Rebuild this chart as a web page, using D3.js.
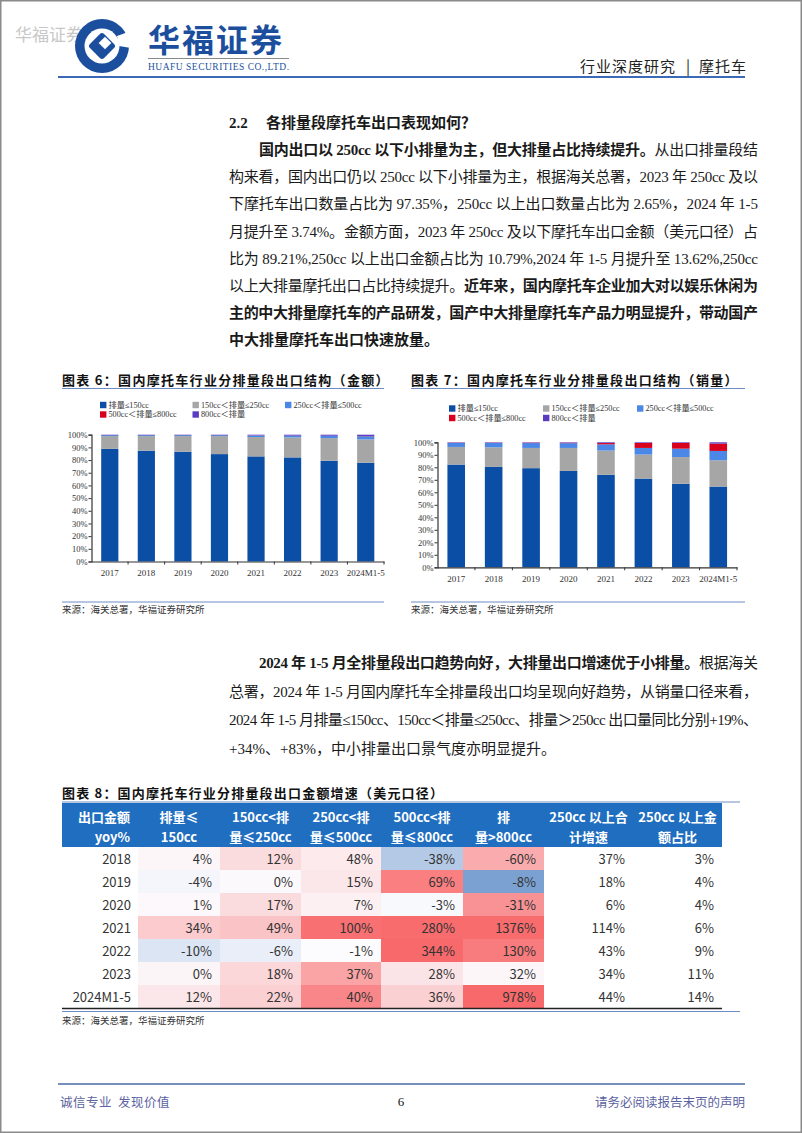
<!DOCTYPE html>
<html><head><meta charset="utf-8">
<script src="https://cdn.jsdelivr.net/npm/d3@7"></script>
<style>html,body{margin:0;padding:0;background:#fff}svg{display:block}</style>
</head><body>
<svg id="page" width="802" height="1133"></svg>
<script>
// ---------------- DATA ----------------
const years = ["2017","2018","2019","2020","2021","2022","2023","2024M1-5"];
const seriesNames = ["排量≤150cc","150cc＜排量≤250cc","250cc＜排量≤500cc","500cc＜排量≤800cc","800cc＜排量"];
// Chart 6 (金额) shares, %
const amtLe150   = [88.8, 87.4, 86.6, 84.7, 82.9, 82.1, 79.5, 77.9];
const amt150_250 = [10.1, 11.5, 12.3, 14.2, 15.3, 15.8, 17.8, 18.4];
const amt250_500 = [0.8, 0.8, 0.8, 0.8, 1.2, 1.3, 1.8, 2.5];
const amt500_800 = [0.1, 0.1, 0.1, 0.1, 0.1, 0.1, 0.1, 0.2];
const amtGt800   = [0.2, 0.2, 0.2, 0.2, 0.5, 0.7, 0.8, 1.0];
// Chart 7 (销量) shares, %
const volLe150   = [82.2, 80.3, 79.3, 77.1, 74.0, 71.0, 66.8, 64.6];
const vol150_250 = [14.1, 15.7, 16.2, 18.4, 19.4, 19.2, 21.4, 21.0];
const vol250_500 = [3.2, 3.5, 3.9, 3.8, 5.0, 5.3, 6.7, 7.5];
const vol500_800 = [0.2, 0.2, 0.3, 0.3, 1.0, 4.0, 4.6, 5.9];
const volGt800   = [0.3, 0.3, 0.3, 0.4, 0.6, 0.5, 0.5, 1.0];
const yTicks = [0,10,20,30,40,50,60,70,80,90,100];

// Table 8
const tableYears = ["2018","2019","2020","2021","2022","2023","2024M1-5"];
const tableHeaders = [["出口金额","yoy%"],["排量≤","150cc"],["150cc<排","量≤250cc"],["250cc<排","量≤500cc"],["500cc<排","量≤800cc"],["排","量>800cc"],["250cc 以上合","计增速"],["250cc 以上金","额占比"]];
const yoyLe150   = [4, -4, 1, 34, -10, 0, 12];
const yoy150_250 = [12, 0, 17, 49, -6, 18, 22];
const yoy250_500 = [48, 15, 7, 100, -1, 37, 40];
const yoy500_800 = [-38, 69, -3, 280, 344, 28, 36];
const yoyGt800   = [-60, -8, -31, 1376, 130, 32, 978];
const yoyGt250   = [37, 18, 6, 114, 43, 34, 44];
const shareGt250 = [3, 4, 4, 6, 9, 11, 14];
// heat level of each coloured cell (-1 blue … 0 white … 1 red)
const heatLe150   = [0.04, -0.05, 0.03, 0.33, -0.2, 0.05, 0.15];
const heat150_250 = [0.22, 0.02, 0.22, 0.38, -0.12, 0.25, 0.3];
const heat250_500 = [0.12, 0.15, 0.08, 0.95, 0.01, 0.6, 0.8];
const heat500_800 = [-0.45, 0.85, -0.03, 0.98, 1.0, 0.16, 0.3];
const heatGt800   = [0.55, -0.8, 0.72, 0.98, 0.88, 0.04, 1.0];

// ---------------- DRAW ----------------
const svg = d3.select("#page");
const SERIF = "'Liberation Serif','Noto Sans CJK SC',serif";
const SANS = "'Noto Sans CJK SC','Noto Sans',sans-serif";
function T(x, y, s, o = {}) {
  const t = svg.append("text").attr("x", x).attr("y", y).text(s)
    .attr("font-family", o.ff || SERIF).attr("font-size", o.fs || 15)
    .attr("fill", o.fill || "#1a1a1a").attr("dominant-baseline", "central");
  if (o.fw) t.attr("font-weight", o.fw);
  if (o.anchor) t.attr("text-anchor", o.anchor);
  if (o.ls != null) t.attr("letter-spacing", o.ls);
  if (o.tl) t.attr("textLength", o.tl).attr("lengthAdjust", "spacing");
  return t;
}
function L(x1, y1, x2, y2, c, w) {
  svg.append("line").attr("x1", x1).attr("y1", y1).attr("x2", x2).attr("y2", y2)
    .attr("stroke", c).attr("stroke-width", w);
}

// page frame
svg.append("rect").attr("x", 0.75).attr("y", 0.75).attr("width", 800.5).attr("height", 1131.5)
  .attr("fill", "none").attr("stroke", "#8a8a8a").attr("stroke-width", 1.5);

// ---- header ----
T(15, 33, "华福证券", {ff: SANS, fs: 17, fill: "#c8c8c8"});
const logo = svg.append("g").attr("transform", "translate(102,46)");
logo.append("circle").attr("r", 27).attr("fill", "#1b4f9e");
logo.append("circle").attr("r", 17.5).attr("fill", "#fff");
logo.append("path").attr("d", "M15,-10 L29,-15 L29,2 L17,0 Z").attr("fill", "#fff");
logo.append("rect").attr("x", -10).attr("y", -10).attr("width", 20).attr("height", 20).attr("rx", 3)
  .attr("transform", "rotate(45)").attr("fill", "#1b4f9e");
logo.append("rect").attr("x", -4.5).attr("y", -4.5).attr("width", 9).attr("height", 9)
  .attr("transform", "translate(3,-3) rotate(45)").attr("fill", "#fff");
T(148, 38, "华福证券", {ff: SANS, fs: 32, fw: "bold", fill: "#1b4f9e", ls: 2});
L(148, 58.5, 289, 58.5, "#8a8a8a", 1);
T(148, 67, "HUAFU SECURITIES CO.,LTD.", {ff: "'Liberation Serif',serif", fs: 9.5, fill: "#1b4f9e", tl: 141});
T(580, 65, "行业深度研究", {ff: SANS, fs: 15, fill: "#222", ls: 1});
T(688, 65, "|", {ff: SANS, fs: 15, fill: "#222", anchor: "middle"});
T(699, 65, "摩托车", {ff: SANS, fs: 15, fill: "#222", ls: 1});
L(58, 77, 745, 77, "#3b69b6", 2);

// ---- paragraph 1 ----
function para(lines, x0, indent, right, y0, dy, fs) {
  lines.forEach((ln, i) => {
    const x = x0 + (ln.indent ? indent : 0);
    const t = svg.append("text").attr("x", x).attr("y", y0 + i * dy)
      .attr("font-family", SERIF).attr("font-size", fs).attr("fill", "#1a1a1a")
      .attr("dominant-baseline", "central");
    ln.parts.forEach(p => t.append("tspan").attr("font-weight", p.b ? "bold" : "normal").text(p.t));
    if (ln.just) t.attr("textLength", right - x).attr("lengthAdjust", "spacing");
  });
}
T(229, 123, "2.2", {fs: 15, fw: "bold"});
T(266, 123, "各排量段摩托车出口表现如何？", {fs: 15, fw: "bold"});
para([
  {indent: true, just: true, parts: [{b: 1, t: "国内出口以 250cc 以下小排量为主，但大排量占比持续提升。"}, {t: "从出口排量段结"}]},
  {just: true, parts: [{t: "构来看，国内出口仍以 250cc 以下小排量为主，根据海关总署，2023 年 250cc 及以"}]},
  {just: true, parts: [{t: "下摩托车出口数量占比为 97.35%，250cc 以上出口数量占比为 2.65%，2024 年 1-5"}]},
  {just: true, parts: [{t: "月提升至 3.74%。金额方面，2023 年 250cc 及以下摩托车出口金额（美元口径）占"}]},
  {just: true, parts: [{t: "比为 89.21%,250cc 以上出口金额占比为 10.79%,2024 年 1-5 月提升至 13.62%,250cc"}]},
  {just: true, parts: [{t: "以上大排量摩托出口占比持续提升。"}, {b: 1, t: "近年来，国内摩托车企业加大对以娱乐休闲为"}]},
  {just: true, parts: [{b: 1, t: "主的中大排量摩托车的产品研发，国产中大排量摩托车产品力明显提升，带动国产"}]},
  {just: false, parts: [{b: 1, t: "中大排量摩托车出口快速放量。"}]}
], 229, 30, 758, 150, 27.2, 15);

// ---- stacked charts ----
const colors = ["#0b4ea5", "#a6a6a6", "#4a87e6", "#d8001c", "#5a3cc2"];
function stackChart(cfg) {
  const rows = years.map((yr, i) => {
    const o = {year: yr};
    seriesNames.forEach((s, k) => o[s] = cfg.series[k][i]);
    return o;
  });
  const stacked = d3.stack().keys(seriesNames)(rows);
  const x = d3.scaleBand().domain(years).range([cfg.x0, cfg.x1]).paddingInner(0.53).paddingOuter(0.265);
  const y = d3.scaleLinear().domain([0, 100]).range([cfg.y0, cfg.y1]);
  const g = svg.append("g");
  T(cfg.tx, cfg.ty, cfg.title, {ff: SANS, fs: 13, fw: "bold", fill: "#111", ls: 1.3});
  L(cfg.tx, cfg.ty + 9.5, cfg.lineEnd, cfg.ty + 9.5, "#6d8cc6", 1);
  cfg.legend.forEach((p, k) => {
    g.append("rect").attr("x", p[0]).attr("y", p[1] - 3.2).attr("width", 6.4).attr("height", 6.4).attr("fill", colors[k]);
    g.append("text").attr("x", p[0] + 8.5).attr("y", p[1]).attr("dominant-baseline", "central")
      .attr("font-family", SERIF).attr("font-size", 8.2).attr("fill", "#333").text(seriesNames[k]);
  });
  g.selectAll("g.s").data(stacked).join("g").attr("fill", (d, k) => colors[k])
    .selectAll("rect").data(d => d).join("rect")
    .attr("x", d => x(d.data.year)).attr("width", x.bandwidth())
    .attr("y", d => y(d[1])).attr("height", d => Math.max(0, y(d[0]) - y(d[1])));
  const ya = g.append("g").attr("transform", `translate(${cfg.x0},0)`)
    .call(d3.axisLeft(y).tickValues(yTicks).tickSize(3).tickFormat(d => d + "%"));
  ya.select(".domain").attr("stroke", "#333").attr("stroke-width", 1.2);
  ya.selectAll(".tick line").attr("stroke", "#333");
  ya.selectAll(".tick text").attr("font-family", "'Liberation Serif',serif").attr("font-size", 8.5).attr("fill", "#333").attr("x", -4);
  const xa = g.append("g").attr("transform", `translate(0,${cfg.y0})`)
    .call(d3.axisBottom(x).tickSize(0).tickPadding(8));
  xa.select(".domain").attr("stroke", "#333").attr("stroke-width", 1.2);
  xa.selectAll(".tick text").attr("font-family", "'Liberation Serif',serif").attr("font-size", 9).attr("fill", "#333");
  years.forEach((yr, i) => {
    const bx = x.range()[0] + (i + 1) * x.step();
    g.append("line").attr("x1", bx).attr("x2", bx).attr("y1", cfg.y0).attr("y2", cfg.y0 + 3).attr("stroke", "#333");
  });
  L(cfg.tx, 602, cfg.lineEnd, 602, "#6d8cc6", 1);
  T(cfg.tx, 609.5, "来源：海关总署，华福证券研究所", {ff: SERIF, fs: 9.5, fill: "#333"});
}
stackChart({
  title: "图表 6：国内摩托车行业分排量段出口结构（金额）",
  tx: 62, ty: 379, lineEnd: 384,
  x0: 91.5, x1: 384, y0: 561.5, y1: 434.7,
  series: [amtLe150, amt150_250, amt250_500, amt500_800, amtGt800],
  legend: [[100, 405], [192.5, 405], [285, 405], [100, 414.5], [192.5, 414.5]]
});
stackChart({
  title: "图表 7：国内摩托车行业分排量段出口结构（销量）",
  tx: 411, ty: 379, lineEnd: 745,
  x0: 437.5, x1: 737, y0: 567.3, y1: 442.3,
  series: [volLe150, vol150_250, vol250_500, vol500_800, volGt800],
  legend: [[449, 408.5], [543, 408.5], [637, 408.5], [449, 418], [543, 418]]
});

// ---- paragraph 2 ----
para([
  {indent: true, just: true, parts: [{b: 1, t: "2024 年 1-5 月全排量段出口趋势向好，大排量出口增速优于小排量。"}, {t: "根据海关"}]},
  {just: true, parts: [{t: "总署，2024 年 1-5 月国内摩托车全排量段出口均呈现向好趋势，从销量口径来看，"}]},
  {just: true, parts: [{t: "2024 年 1-5 月排量≤150cc、150cc＜排量≤250cc、排量＞250cc 出口量同比分别+19%、"}]},
  {just: false, parts: [{t: "+34%、+83%，中小排量出口景气度亦明显提升。"}]}
], 229, 30, 758, 663, 28.6, 15);

// ---- table 8 ----
T(62, 792, "图表 8：国内摩托车行业分排量段出口金额增速（美元口径）", {ff: SANS, fs: 13, fw: "bold", fill: "#111", ls: 1.2});
L(62, 802, 740, 802, "#6d8cc6", 1);
const colX = [62, 138, 220, 301, 381, 463, 544, 633, 722];
const hTop = 803, hBot = 847, rowH = 23;
svg.append("rect").attr("x", colX[0]).attr("y", hTop).attr("width", colX[8] - colX[0]).attr("height", hBot - hTop).attr("fill", "#1f6ec0");
tableHeaders.forEach((h, c) => {
  const cx = c === 0 ? colX[1] - 8 : (colX[c] + colX[c + 1]) / 2;
  h.forEach((s, j) => T(cx, 816 + j * 20, s, {ff: SANS, fs: 13, fw: "bold", fill: "#fff", anchor: c === 0 ? "end" : "middle"}));
});
const heatColor = d3.scaleLinear().domain([-1, 0, 1]).range(["#5a8ac6", "#fcfcff", "#f8696b"]);
const valueCols = [yoyLe150, yoy150_250, yoy250_500, yoy500_800, yoyGt800, yoyGt250, shareGt250];
const heatCols = [heatLe150, heat150_250, heat250_500, heat500_800, heatGt800];
tableYears.forEach((yr, r) => {
  const top = hBot + r * rowH, cy = top + rowH / 2;
  T(colX[1] - 7, cy, yr, {ff: SANS, fs: 13, fill: "#333", anchor: "end"});
  valueCols.forEach((col, c) => {
    if (c < heatCols.length) {
      svg.append("rect").attr("x", colX[c + 1]).attr("y", top).attr("width", colX[c + 2] - colX[c + 1]).attr("height", rowH)
        .attr("fill", heatColor(heatCols[c][r]));
    }
    T(colX[c + 2] - 8, cy, col[r] + "%", {ff: SANS, fs: 13, fill: "#333", anchor: "end"});
  });
});
L(62, hBot + 7 * rowH + 0.5, 722, hBot + 7 * rowH + 0.5, "#222", 1.3);
L(62, hBot + 7 * rowH + 3.5, 740, hBot + 7 * rowH + 3.5, "#6d8cc6", 1);
T(62, 1021, "来源：海关总署，华福证券研究所", {ff: SERIF, fs: 9.5, fill: "#333"});

// ---- footer ----
L(58, 1084, 745, 1084, "#4a6aa5", 1.5);
T(60, 1101, "诚信专业", {ff: SANS, fs: 12.5, fill: "#5a62a0", ls: 0.5});
T(118, 1101, "发现价值", {ff: SANS, fs: 12.5, fill: "#5a62a0", ls: 0.5});
T(401, 1101, "6", {ff: "'Liberation Serif',serif", fs: 13, fill: "#111", anchor: "middle"});
T(745, 1101, "请务必阅读报告末页的声明", {ff: SANS, fs: 12.5, fill: "#5a62a0", anchor: "end"});
</script>
</body></html>
